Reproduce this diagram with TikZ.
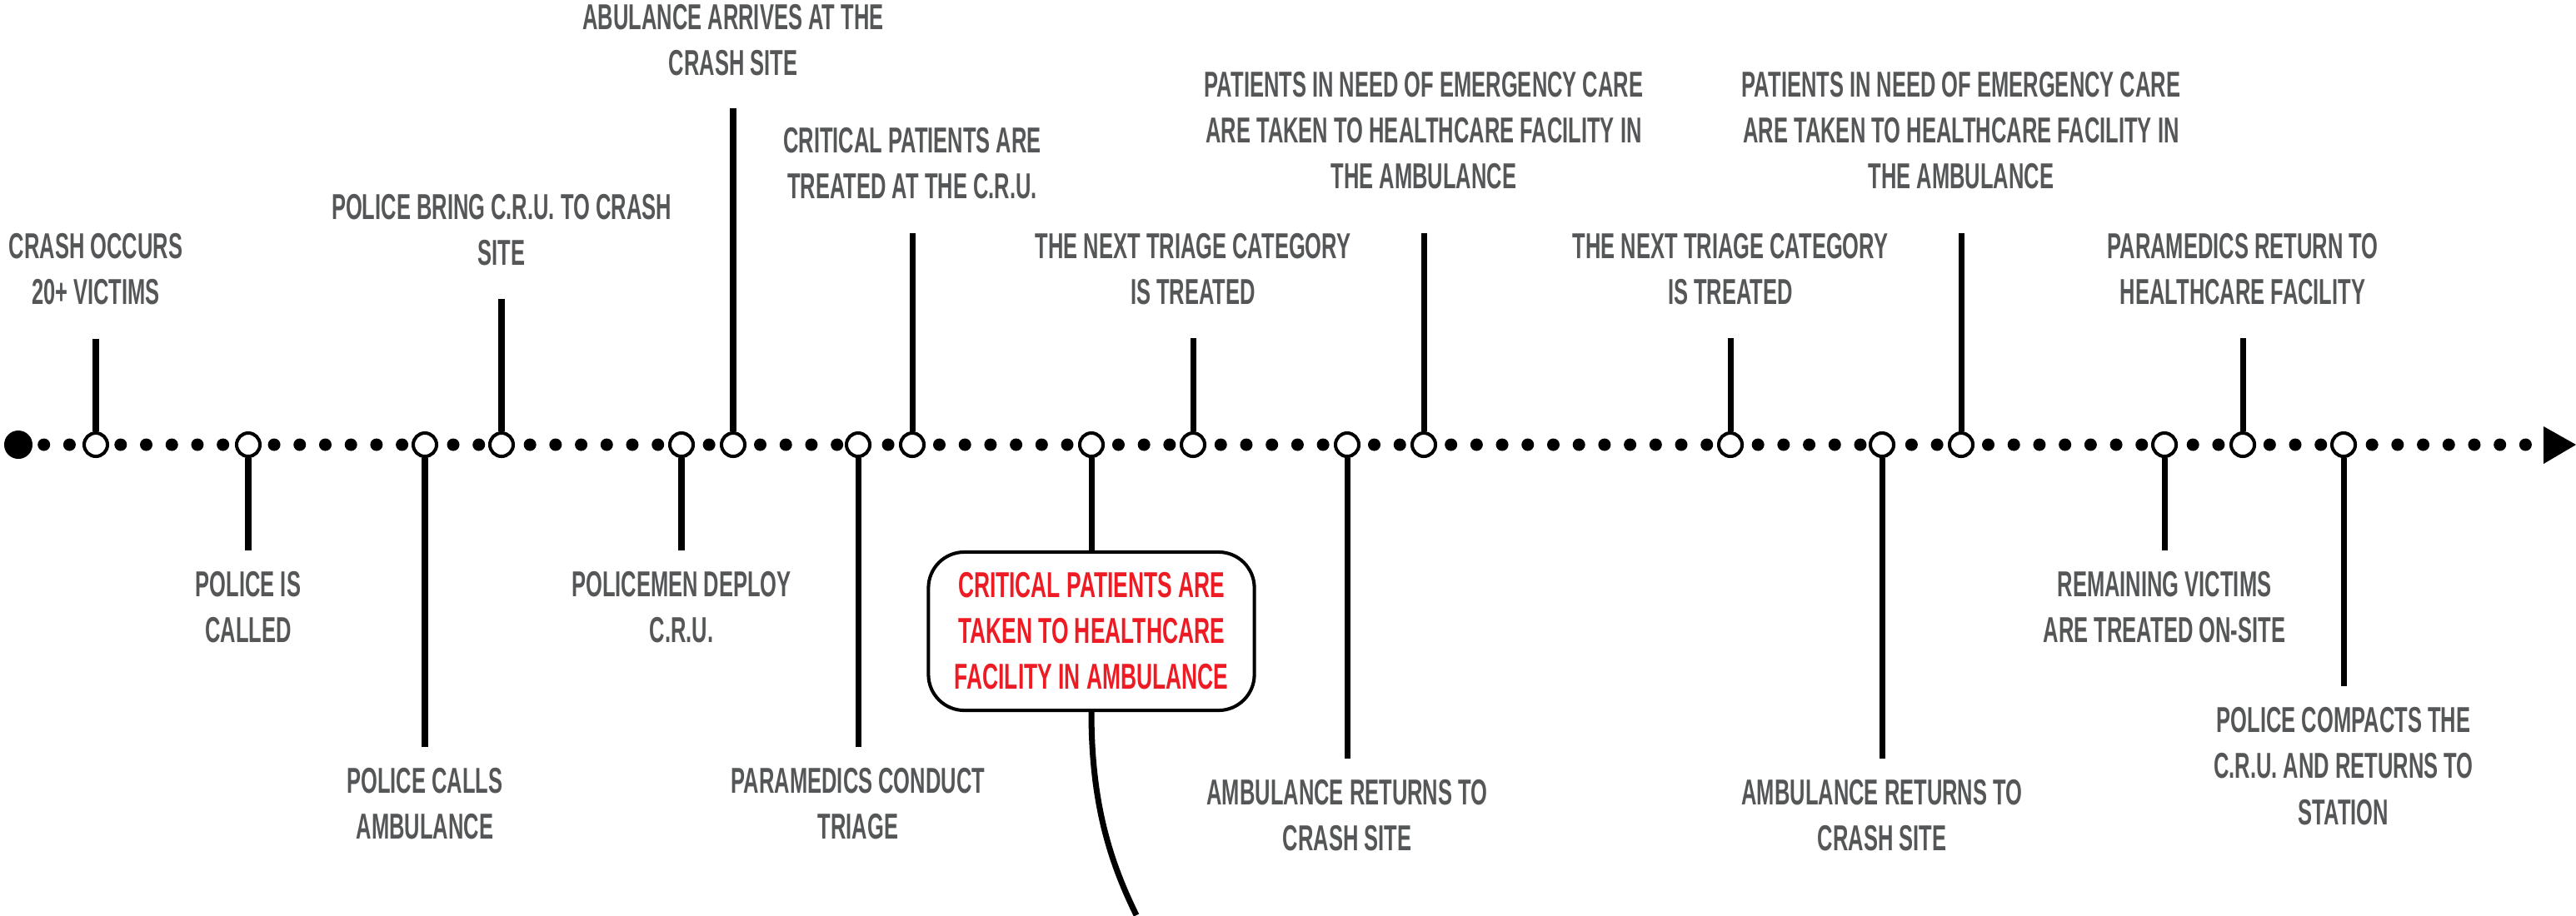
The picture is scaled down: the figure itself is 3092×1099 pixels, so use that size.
\documentclass[tikz,border=0pt]{standalone}
\usepackage{fontspec}
\usetikzlibrary{positioning}
\newfontfamily\lblfont{Liberation Sans}[FakeStretch=0.59]
\newfontfamily\alertfont{Liberation Sans}[FakeStretch=0.61]
\definecolor{labelgray}{HTML}{545657}
\definecolor{alertred}{HTML}{ED1C24}
\tikzset{
  event/.style={circle, draw, fill=white, line width=1.15pt, minimum size=0.28cm, inner sep=0pt},
  stem/.style={line width=2pt},
  evtext/.style={font=\lblfont\bfseries\fontsize{12.3}{15.65}\selectfont, text=labelgray, align=center, inner sep=0pt},
  alertbox/.style={draw, fill=white, line width=1.15pt, rounded corners=0.43cm, minimum width=3.91cm, minimum height=1.9cm,
    inner sep=0pt, align=center, text=alertred, font=\alertfont\bfseries\fontsize{12.3}{15.65}\selectfont}
}
\begin{document}
\begin{tikzpicture}[x=0.01cm, y=-0.01cm]
    \useasboundingbox (0,0) rectangle (3092,1099);

    % time line
    \node[circle, fill, minimum size=0.34cm, inner sep=0pt] (start) at (22,534) {};
    \coordinate (end) at (3040,534);
    \draw[line width=0.15cm, line cap=round, dash pattern=on 0pt off 0.3069cm] (start.center) -- (end);
    \fill (3053,512) -- (3092,534) -- (3053,557) -- cycle;

    % events above the line
    \node[event] (crash) at (115,534) {};
    \coordinate (crash-top) at (115,407);
    \draw[stem] (crash) -- (crash-top);
    \node[evtext, above=0.40cm of crash-top] {CRASH OCCURS\\20+ VICTIMS};

    \node[event] (bringcru) at (602,534) {};
    \coordinate (bringcru-top) at (602,359);
    \draw[stem] (bringcru) -- (bringcru-top);
    \node[evtext, above=0.39cm of bringcru-top] {POLICE BRING C.R.U. TO CRASH\\SITE};

    \node[event] (ambarrives) at (880,534) {};
    \coordinate (ambarrives-top) at (880,130);
    \draw[stem] (ambarrives) -- (ambarrives-top);
    \node[evtext, above=0.38cm of ambarrives-top] {ABULANCE ARRIVES AT THE\\CRASH SITE};

    \node[event] (critical) at (1095,534) {};
    \coordinate (critical-top) at (1095,280);
    \draw[stem] (critical) -- (critical-top);
    \node[evtext, above=0.40cm of critical-top] {CRITICAL PATIENTS ARE\\TREATED AT THE C.R.U.};

    \node[event] (nexttriage1) at (1432,534) {};
    \coordinate (nexttriage1-top) at (1432,406);
    \draw[stem] (nexttriage1) -- (nexttriage1-top);
    \node[evtext, above=0.39cm of nexttriage1-top] {THE NEXT TRIAGE CATEGORY\\IS TREATED};

    \node[event] (emergency1) at (1709,534) {};
    \coordinate (emergency1-top) at (1709,280);
    \draw[stem] (emergency1) -- (emergency1-top);
    \node[evtext, above=0.52cm of emergency1-top] {PATIENTS IN NEED OF EMERGENCY CARE\\ARE TAKEN TO HEALTHCARE FACILITY IN\\THE AMBULANCE};

    \node[event] (nexttriage2) at (2077,534) {};
    \coordinate (nexttriage2-top) at (2077,406);
    \draw[stem] (nexttriage2) -- (nexttriage2-top);
    \node[evtext, above=0.39cm of nexttriage2-top] {THE NEXT TRIAGE CATEGORY\\IS TREATED};

    \node[event] (emergency2) at (2354,534) {};
    \coordinate (emergency2-top) at (2354,280);
    \draw[stem] (emergency2) -- (emergency2-top);
    \node[evtext, above=0.52cm of emergency2-top] {PATIENTS IN NEED OF EMERGENCY CARE\\ARE TAKEN TO HEALTHCARE FACILITY IN\\THE AMBULANCE};

    \node[event] (paramedics) at (2692,534) {};
    \coordinate (paramedics-top) at (2692,406);
    \draw[stem] (paramedics) -- (paramedics-top);
    \node[evtext, above=0.39cm of paramedics-top] {PARAMEDICS RETURN TO\\HEALTHCARE FACILITY};

    % events below the line
    \node[event] (policecalled) at (298,534) {};
    \coordinate (policecalled-bot) at (298,661);
    \draw[stem] (policecalled) -- (policecalled-bot);
    \node[evtext, below=0.25cm of policecalled-bot] {POLICE IS\\CALLED};

    \node[event] (callsamb) at (510,534) {};
    \coordinate (callsamb-bot) at (510,897);
    \draw[stem] (callsamb) -- (callsamb-bot);
    \node[evtext, below=0.25cm of callsamb-bot] {POLICE CALLS\\AMBULANCE};

    \node[event] (deploycru) at (818,534) {};
    \coordinate (deploycru-bot) at (818,661);
    \draw[stem] (deploycru) -- (deploycru-bot);
    \node[evtext, below=0.25cm of deploycru-bot] {POLICEMEN DEPLOY\\C.R.U.};

    \node[event] (triage) at (1030,534) {};
    \coordinate (triage-bot) at (1030,897);
    \draw[stem] (triage) -- (triage-bot);
    \node[evtext, below=0.25cm of triage-bot] {PARAMEDICS CONDUCT\\TRIAGE};

    \node[event] (critamb) at (1310,534) {};
    \node[alertbox] (critamb-box) at (1310,758) {CRITICAL PATIENTS ARE\\TAKEN TO HEALTHCARE\\FACILITY IN AMBULANCE};
    \draw[stem] (critamb) -- (critamb-box);
    \coordinate (critamb-end) at (1364,1099);
    \draw[stem] (critamb-box.south) .. controls (1310,960) and (1330,1030) .. (critamb-end);

    \node[event] (returns1) at (1617,534) {};
    \coordinate (returns1-bot) at (1617,911);
    \draw[stem] (returns1) -- (returns1-bot);
    \node[evtext, below=0.25cm of returns1-bot] {AMBULANCE RETURNS TO\\CRASH SITE};

    \node[event] (returns2) at (2259,534) {};
    \coordinate (returns2-bot) at (2259,911);
    \draw[stem] (returns2) -- (returns2-bot);
    \node[evtext, below=0.25cm of returns2-bot] {AMBULANCE RETURNS TO\\CRASH SITE};

    \node[event] (remaining) at (2598,534) {};
    \coordinate (remaining-bot) at (2598,661);
    \draw[stem] (remaining) -- (remaining-bot);
    \node[evtext, below=0.25cm of remaining-bot] {REMAINING VICTIMS\\ARE TREATED ON-SITE};

    \node[event] (compacts) at (2813,534) {};
    \coordinate (compacts-bot) at (2813,824);
    \draw[stem] (compacts) -- (compacts-bot);
    \node[evtext, below=0.25cm of compacts-bot] {POLICE COMPACTS THE\\C.R.U. AND RETURNS TO\\STATION};
\end{tikzpicture}
\end{document}
